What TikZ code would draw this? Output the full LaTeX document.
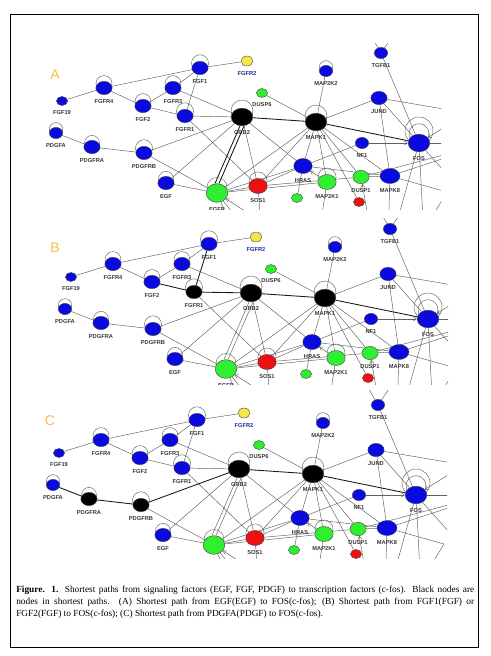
\documentclass[tikz,border=0pt]{standalone}
\usepackage{fontspec}
\setmainfont{Liberation Serif}
\setsansfont{Liberation Sans}
\usepackage{tikz}
\usetikzlibrary{shapes.geometric,arrows.meta,backgrounds}
\definecolor{geneblue}{HTML}{0A0AE0}
\definecolor{genegreen}{HTML}{30EE30}
\definecolor{genered}{HTML}{EE1010}
\definecolor{geneyellow}{HTML}{F5E44A}
\definecolor{panelgold}{HTML}{F2C04C}
\definecolor{labelgrey}{HTML}{383838}
\definecolor{fgfrnavy}{HTML}{1C2C96}

\tikzset{
  gene/.style={ellipse,draw=black!75,line width=0.3pt,inner sep=0pt},
  xs/.style={minimum width=8.3pt,minimum height=6.8pt},
  sm/.style={minimum width=10pt,minimum height=8.4pt},
  md/.style={minimum width=12.2pt,minimum height=10pt},
  lg/.style={minimum width=13.8pt,minimum height=11.3pt},
  xl/.style={minimum width=16.2pt,minimum height=13.2pt},
  lbl/.style={font=\sffamily\bfseries\fontsize{4.3}{4.5}\selectfont,text=labelgrey,inner sep=0.4pt,yshift=-3pt},
  edge/.style={draw=black!62,line width=0.35pt},
  pathedge/.style={draw=black!90,line width=0.65pt},
  loopc/.style={draw=black!60,line width=0.35pt},
  hit/.style={-{Straight Barb[length=2.4pt,width=3pt]}},
  fgfnode/.style={fill=geneblue},
  pdgfnode/.style={fill=geneblue},
  fgfedge/.style={edge},
  pdgfedge/.style={edge},
  egfedge/.style={edge},
  panelletter/.style={font=\sffamily\fontsize{10.5}{10.5}\selectfont,text=panelgold,inner sep=0pt},
  caption/.style={text width=343.5pt,align=justify,inner sep=0pt,anchor=north west,
    font=\fontsize{7}{9}\selectfont},
}

\newcommand\selfloop[2]{\draw[loopc] ([yshift=0.55*#2]#1.center) circle (#2);}

% one copy of the network, panel A coordinates
\newcommand\drawnet{%
  \node[gene,md,fill=geneblue,label={[lbl]below:FGF1}] (FGF1) at (200,68) {};
  \node[gene,xs,minimum width=9pt,minimum height=7.5pt,fill=geneyellow,label={[lbl,text=fgfrnavy]below:FGFR2}] (FGFR2) at (247,61) {};
  \node[gene,md,fill=geneblue,label={[lbl]below:FGFR4}] (FGFR4) at (104,88) {};
  \node[gene,xs,fill=geneblue,label={[lbl]below:FGF19}] (FGF19) at (62,101) {};
  \node[gene,md,fill=geneblue,label={[lbl]below:FGFR3}] (FGFR3) at (173,88) {};
  \node[gene,md,fill=geneblue,label={[lbl]below:FGF2}] (FGF2) at (143,106) {};
  \node[gene,md,fgfnode,label={[lbl]below:FGFR1}] (FGFR1) at (185,116) {};
  \node[gene,sm,fill=geneblue,label={[lbl]below:PDGFA}] (PDGFA) at (56,133) {};
  \node[gene,md,pdgfnode,label={[lbl]below:PDGFRA}] (PDGFRA) at (92,147) {};
  \node[gene,md,pdgfnode,label={[lbl]below:PDGFRB}] (PDGFRB) at (144,153) {};
  \node[gene,md,fill=geneblue,label={[lbl]below:EGF}] (EGF) at (166,183) {};
  \node[gene,xl,minimum height=14pt,fill=genegreen,label={[lbl]below:EGFR}] (EGFR) at (217,193) {};
  \node[gene,xl,fill=black,label={[lbl]below:GRB2}] (GRB2) at (242,117) {};
  \node[gene,lg,fill=genered,label={[lbl]below:SOS1}] (SOS1) at (258,186) {};
  \node[gene,xs,fill=genegreen,label={[lbl]below:DUSP6}] (DUSP6) at (262,93) {};
  \node[gene,sm,fill=geneblue,label={[lbl]below:MAP2K2}] (MAP2K2) at (326,71) {};
  \node[gene,xl,fill=black,label={[lbl]below:MAPK1}] (MAPK1) at (316,122) {};
  \node[gene,sm,fill=geneblue,label={[lbl]below:TGFB1}] (TGFB1) at (381,53) {};
  \node[gene,md,fill=geneblue,label={[lbl]below:JUND}] (JUND) at (379,98) {};
  \node[gene,xl,fill=geneblue,label={[lbl]below:FOS}] (FOS) at (419,143) {};
  \node[gene,sm,fill=geneblue,label={[lbl]below:NF1}] (NF1) at (362,143) {};
  \node[gene,lg,fill=geneblue,label={[lbl]below:HRAS}] (HRAS) at (303,166) {};
  \node[gene,lg,fill=genegreen,label={[lbl]below:MAP2K1}] (MAP2K1) at (327,182) {};
  \node[gene,md,fill=genegreen,label={[lbl]below:DUSP1}] (DUSP1) at (361,177) {};
  \node[gene,lg,minimum width=15pt,fill=geneblue,label={[lbl]below:MAPK8}] (MAPK8) at (390,176) {};
  \node[gene,xs,fill=genered] (smallred) at (359,202) {};
  \node[gene,xs,fill=genegreen] (smallgreen) at (297,198) {};
  \coordinate (offTL) at (365,25);
  \coordinate (offTR) at (400,25);
  \coordinate (offJ) at (520,122);
  \coordinate (offF1) at (480,105);
  \coordinate (offF2) at (500,143);
  \coordinate (offF3) at (470,200);
  \coordinate (offD) at (500,140);
  \coordinate (offK) at (447,192);
  \coordinate (offB1) at (388,240);
  \coordinate (offB2) at (392,240);
  \coordinate (offB3) at (424,240);
  \coordinate (offB4) at (418,240);
  \coordinate (offB5) at (262,222);
  \coordinate (offB6) at (250,235);
  \coordinate (offB7) at (236,238);
  \coordinate (offB8) at (262,240);
  \coordinate (offB9) at (318,240);
  \coordinate (offB10) at (372,240);
  \begin{pgfonlayer}{background}
  \begin{scope}
    \clip (clipNW) rectangle (clipSE);
    \draw[edge] (FGF1) -- (FGFR2);
    \draw[edge] (FGF1) -- (FGFR4);
    \draw[edge] (FGF1) -- (FGFR3);
    \draw[fgfedge] (FGF1) -- (FGFR1);
    \draw[edge] (FGF19) -- (FGFR4);
    \draw[edge] (FGFR4) -- (FGF2);
    \draw[edge] (FGF2) -- (FGFR3);
    \draw[fgfedge] (FGF2) -- (FGFR1);
    \draw[edge] (FGFR3) -- (GRB2);
    \draw[fgfedge] (FGFR1) -- (GRB2);
    \draw[edge] (FGFR1) -- (SOS1);
    \draw[pdgfedge] (PDGFA) -- (PDGFRA);
    \draw[pdgfedge] (PDGFRA) -- (PDGFRB);
    \draw[pdgfedge] (PDGFRB) -- (GRB2);
    \draw[edge] (PDGFRB) -- (EGFR);
    \draw[edge] (EGF) -- (EGFR);
    \draw[edge] (EGF) -- (GRB2);
    \draw[egfedge] ([xshift=-1.5pt]EGFR.north) -- ([xshift=-1.5pt]GRB2.south);
    \draw[egfedge] ([xshift=1.5pt]EGFR.north) -- ([xshift=1.5pt]GRB2.south);
    \draw[edge] (EGFR) -- (SOS1);
    \draw[edge] (GRB2) -- (SOS1);
    \draw[pathedge] (GRB2) -- (MAPK1);
    \draw[edge] (GRB2) -- (HRAS);
    \draw[edge] (EGFR) -- (MAPK1);
    \draw[edge] (EGFR) -- (HRAS);
    \draw[edge] (EGFR) -- (MAP2K1);
    \draw[edge] (SOS1) -- (MAPK1);
    \draw[edge] (SOS1) -- (HRAS);
    \draw[edge] (SOS1) -- (DUSP1);
    \draw[edge] (DUSP6) -- (MAPK1);
    \draw[edge] (MAP2K2) -- (MAPK1);
    \draw[edge] (MAPK1) -- (JUND);
    \draw[pathedge] (MAPK1) -- (FOS);
    \draw[edge] (MAPK1) -- (HRAS);
    \draw[edge] (MAPK1) -- (MAP2K1);
    \draw[edge] (MAPK1) -- (DUSP1);
    \draw[edge] (MAPK1) -- (MAPK8);
    \draw[edge] (MAPK1) -- (smallred);
    \draw[edge] (HRAS) -- (NF1);
    \draw[edge,hit] (NF1) -- (FOS);
    \draw[edge] (HRAS) -- (MAPK8);
    \draw[edge] (HRAS) -- (smallgreen);
    \draw[edge,hit] (MAP2K1) -- (HRAS);
    \draw[edge] (DUSP1) -- (MAPK8);
    \draw[edge] (JUND) -- (MAPK8);
    \draw[edge] (JUND) -- (FOS);
    \draw[edge] (TGFB1) -- (FOS);
    \draw[edge] (TGFB1) -- (offTL);
    \draw[edge] (TGFB1) -- (offTR);
    \draw[edge] (JUND) -- (offJ);
    \draw[edge,hit] (offF1) -- (FOS);
    \draw[edge] (FOS) -- (offF2);
    \draw[edge] (FOS) -- (offF3);
    \draw[edge] (DUSP1) -- (offD);
    \draw[edge] (MAPK8) -- (offD);
    \draw[edge] (MAPK8) -- (offK);
    \draw[edge] (offK) -- (offB4);
    \draw[edge] (MAPK8) -- (offB1);
    \draw[edge] (FOS) -- (offB2);
    \draw[edge] (FOS) -- (offB3);
    \draw[edge,hit] (offB5) -- (EGFR);
    \draw[edge] (EGFR) -- (offB6);
    \draw[edge] (EGFR) -- (offB7);
    \draw[edge] (SOS1) -- (offB8);
    \draw[edge] (MAP2K1) -- (offB9);
    \draw[edge,hit] (offB10) -- (DUSP1);
    \selfloop{FGF1}{6.4pt}
    \selfloop{FGFR4}{6pt}
    \selfloop{FGFR3}{6pt}
    \selfloop{FGF2}{6pt}
    \selfloop{FGFR1}{6.4pt}
    \selfloop{PDGFA}{5pt}
    \selfloop{PDGFRA}{5.6pt}
    \selfloop{PDGFRB}{6.4pt}
    \selfloop{EGF}{5.6pt}
    \selfloop{EGFR}{7.5pt}
    \selfloop{GRB2}{8.2pt}
    \selfloop{SOS1}{6.8pt}
    \selfloop{MAP2K2}{5pt}
    \selfloop{MAPK1}{8.2pt}
    \selfloop{MAP2K1}{6.8pt}
    \draw[loopc] ([yshift=9pt]FOS.center) circle (10.5pt);
    \draw[loopc] ([yshift=7pt]FOS.center) circle (7.5pt);
  \end{scope}
  \end{pgfonlayer}
}

\begin{document}
\begin{tikzpicture}[x=0.75pt,y=-0.75pt]
\useasboundingbox (0,0) rectangle (490,656);
\draw[line width=0.6pt] (10,14) rectangle (478,647);

% A: EGF
\begin{scope}[name prefix=a-]
  \coordinate (clipNW) at (38,44);
  \coordinate (clipSE) at (441,209);
  \begin{scope}
    \clip (clipNW) rectangle (clipSE);
    \begin{scope}[egfedge/.style={pathedge}]
      \drawnet
    \end{scope}
  \end{scope}
\end{scope}
\node[panelletter] (letterA) at (55,75) {A};

% B: FGF
\begin{scope}[name prefix=b-]
  \coordinate (clipNW) at (38,218);
  \coordinate (clipSE) at (448,384);
  \begin{scope}
    \clip (clipNW) rectangle (clipSE);
    \begin{scope}[shift={(9,176)},fgfnode/.style={fill=black},fgfedge/.style={pathedge}]
      \drawnet
    \end{scope}
  \end{scope}
\end{scope}
\node[panelletter] (letterB) at (55,248) {B};

% C: PDGF
\begin{scope}[name prefix=c-]
  \coordinate (clipNW) at (38,390);
  \coordinate (clipSE) at (447,558);
  \begin{scope}
    \clip (clipNW) rectangle (clipSE);
    \begin{scope}[shift={(-3,352)},pdgfnode/.style={fill=black},pdgfedge/.style={pathedge}]
      \drawnet
    \end{scope}
  \end{scope}
\end{scope}
\node[panelletter] (letterC) at (50,421) {C};

\node[caption] (cap) at (16,586) {\textbf{Figure. 1.} Shortest paths from signaling factors (EGF, FGF, PDGF) to transcription factors (c-fos). Black nodes are\linebreak nodes in shortest paths. (A) Shortest path from EGF(EGF) to FOS(c-fos); (B) Shortest path from FGF1(FGF) or\linebreak FGF2(FGF) to FOS(c-fos); (C) Shortest path from PDGFA(PDGF) to FOS(c-fos).};
\end{tikzpicture}
\end{document}
